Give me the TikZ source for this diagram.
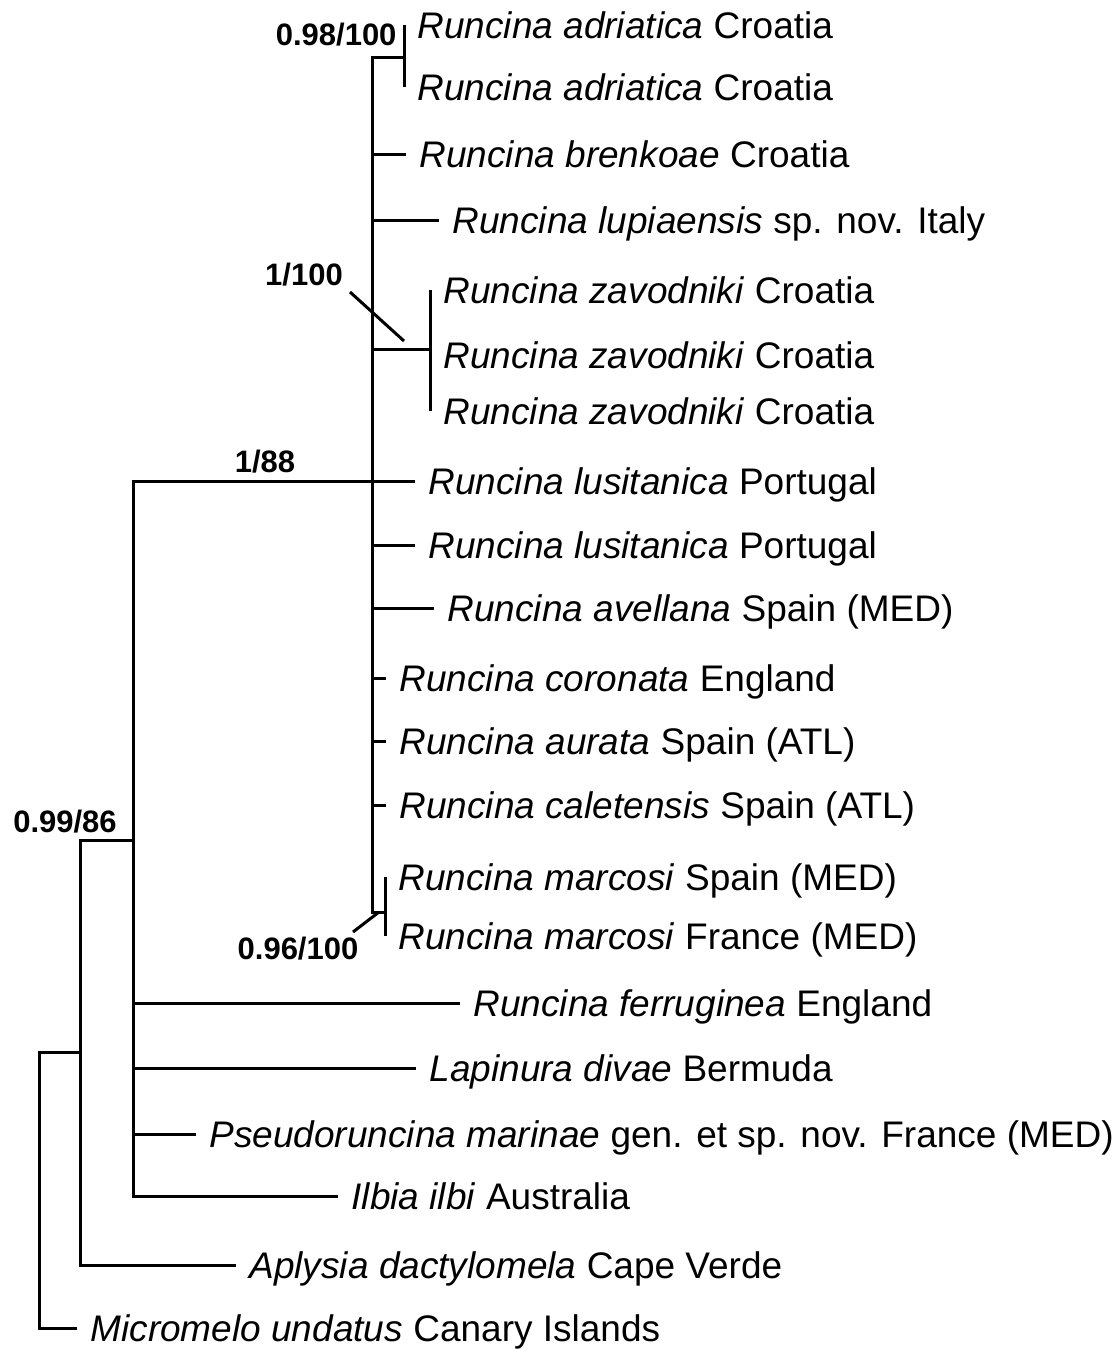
\documentclass[tikz,border=0pt]{standalone}
\usepackage{fontspec}
\setmainfont{Liberation Sans}
\usetikzlibrary{positioning}

\begin{document}
\begin{tikzpicture}[x=1pt, y=-1pt, line width=3pt,
    leaf/.style={anchor=west, inner xsep=12pt, inner ysep=0pt, text height=26pt, text depth=0pt, font=\fontsize{37}{40}\selectfont},
    supp/.style={inner sep=0pt, font=\fontsize{31}{34}\selectfont\bfseries}]
        \useasboundingbox (0,0) rectangle (1112,1349);

        % leaves
        \node[leaf] (adr1) at (404,25) {\textit{Runcina adriatica} Croatia};
        \node[leaf] (adr2) at (404,87) {\textit{Runcina adriatica} Croatia};
        \node[leaf] (bre) at (406,154) {\textit{Runcina brenkoae} Croatia};
        \node[leaf] (lup) at (439,220) {\textit{Runcina lupiaensis} sp. nov. Italy};
        \node[leaf] (zav1) at (430,290) {\textit{Runcina zavodniki} Croatia};
        \node[leaf] (zav2) at (430,355) {\textit{Runcina zavodniki} Croatia};
        \node[leaf] (zav3) at (430,411) {\textit{Runcina zavodniki} Croatia};
        \node[leaf] (lus1) at (415,481) {\textit{Runcina lusitanica} Portugal};
        \node[leaf] (lus2) at (415,545) {\textit{Runcina lusitanica} Portugal};
        \node[leaf] (ave) at (434,608) {\textit{Runcina avellana} Spain (MED)};
        \node[leaf] (cor) at (386,678) {\textit{Runcina coronata} England};
        \node[leaf] (aur) at (386,741) {\textit{Runcina aurata} Spain (ATL)};
        \node[leaf] (cal) at (386,805) {\textit{Runcina caletensis} Spain (ATL)};
        \node[leaf] (mar1) at (385,877) {\textit{Runcina marcosi} Spain (MED)};
        \node[leaf] (mar2) at (385,936) {\textit{Runcina marcosi} France (MED)};
        \node[leaf] (fer) at (460,1003) {\textit{Runcina ferruginea} England};
        \node[leaf] (lap) at (416,1068) {\textit{Lapinura divae} Bermuda};
        \node[leaf] (pse) at (196,1134) {\textit{Pseudoruncina marinae} gen. et sp. nov. France (MED)};
        \node[leaf] (ilb) at (338,1196) {\textit{Ilbia ilbi} Australia};
        \node[leaf] (apl) at (236,1265) {\textit{Aplysia dactylomela} Cape Verde};
        \node[leaf] (mic) at (77,1328) {\textit{Micromelo undatus} Canary Islands};

        % inner nodes
        \coordinate (adr) at (404,57);
        \coordinate (zav) at (430,349);
        \coordinate (mar) at (385,912);
        \coordinate (runc) at (372,481);
        \coordinate (ingr) at (133,840);
        \coordinate (opis) at (80,1052);
        \coordinate (root) at (39,1190);

        \draw (adr) |- (adr1.west);
        \draw (adr) |- (adr2.west);
        \draw (zav) |- (zav1.west);
        \draw (zav) |- (zav2.west);
        \draw (zav) |- (zav3.west);
        \draw (mar) |- (mar1.west);
        \draw (mar) |- (mar2.west);
        \draw (runc) |- (adr);
        \draw (runc) |- (bre.west);
        \draw (runc) |- (lup.west);
        \draw (runc) |- (zav);
        \draw (runc) -- (lus1.west);
        \draw (runc) |- (lus2.west);
        \draw (runc) |- (ave.west);
        \draw (runc) |- (cor.west);
        \draw (runc) |- (aur.west);
        \draw (runc) |- (cal.west);
        \draw (runc) |- (mar);
        \draw (ingr) |- (runc);
        \draw (ingr) |- (fer.west);
        \draw (ingr) |- (lap.west);
        \draw (ingr) |- (pse.west);
        \draw (ingr) |- (ilb.west);
        \draw (opis) |- (ingr);
        \draw (opis) |- (apl.west);
        \draw (root) |- (opis);
        \draw (root) |- (mic.west);

        % support values
        \node[supp, anchor=east] (s1) at (398,35) {0.98/100};
        \node[supp] (s2) at (304,275) {1/100};
        \node[supp] (s3) at (265,462) {1/88};
        \node[supp] (s4) at (65,822) {0.99/86};
        \node[supp] (s5) at (298,949) {0.96/100};
        \coordinate (s2a) at (350,292);
        \coordinate (s2b) at (404,341);
        \coordinate (s5a) at (353,932);
        \coordinate (s5b) at (379,912);
        \draw (s2a) -- (s2b);
        \draw (s5a) -- (s5b);
    \end{tikzpicture}
\end{document}
